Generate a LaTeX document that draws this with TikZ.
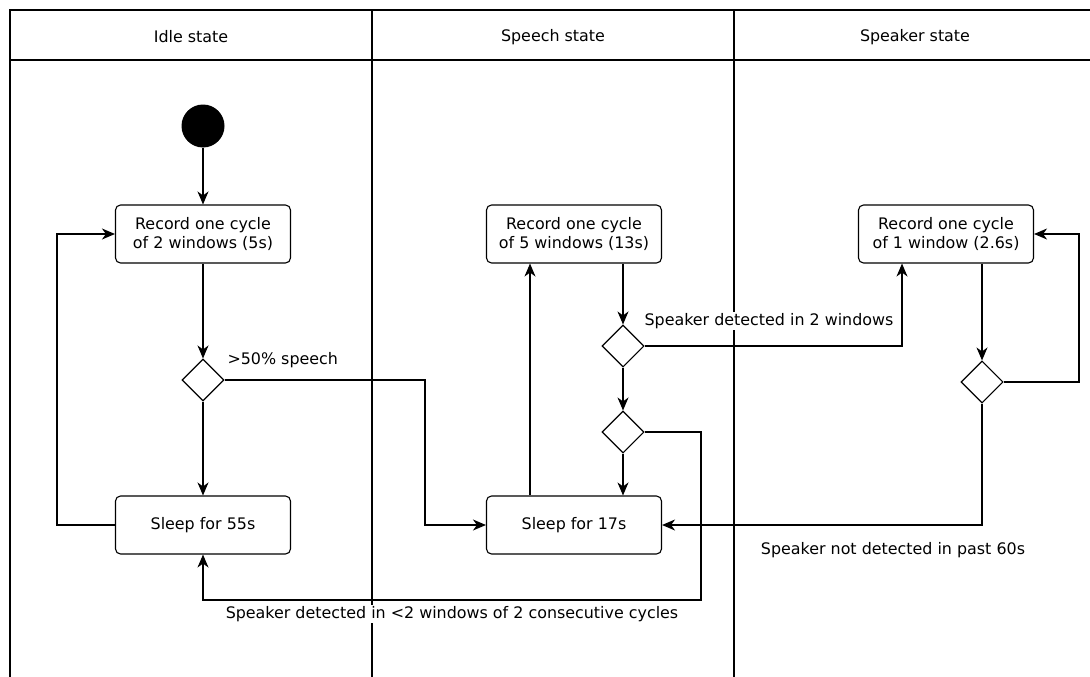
\documentclass[tikz,border=0pt]{standalone}
\usepackage{fontspec}
\setmainfont{DejaVu Sans}
\usetikzlibrary{arrows.meta,shapes.geometric}
\begin{document}
\begin{tikzpicture}[x=1pt,y=-1pt,
  every node/.style={font=\fontsize{15.9}{19.5}\selectfont},
  lane/.style={line width=1.6pt},
  actbox/.style={draw,line width=1.1pt,rounded corners=5pt,minimum width=175pt,minimum height=58pt,align=center,inner sep=0pt},
  choice/.style={draw,line width=1.1pt,diamond,minimum width=42pt,minimum height=42pt,inner sep=0pt},
  startdot/.style={circle,fill=black,minimum size=43pt,inner sep=0pt},
  flow/.style={line width=1.1pt,-{Stealth[length=13pt,width=11pt,inset=4pt]}},
  lbl/.style={fill=white,inner sep=1pt}]
\useasboundingbox (0,0) rectangle (1090,677);
\clip (0,0) rectangle (1090,677);
\fill[white] (0,0) rectangle (1090,677);
% swimlanes
\draw[lane] (10,700) -- (10,10) -- (1096,10) -- (1096,700);
\draw[lane] (10,60) -- (1096,60);
\draw[lane] (372,10) -- (372,700);
\draw[lane] (734,10) -- (734,700);
\node (h1) at (191,37) {Idle state};
\node (h2) at (553,37) {Speech state};
\node (h3) at (915,37) {Speaker state};
% nodes
\node[startdot] (s) at (203,126) {};
\node[actbox] (r1) at (203,234) {Record one cycle\\of 2 windows (5s)};
\node[choice] (d1) at (203,380) {};
\node[actbox] (sl1) at (203,525) {Sleep for 55s};
\node[actbox] (r2) at (574,234) {Record one cycle\\of 5 windows (13s)};
\node[choice] (d2) at (623,346) {};
\node[choice] (d3) at (623,432) {};
\node[actbox] (sl2) at (574,525) {Sleep for 17s};
\node[actbox] (r3) at (946,234) {Record one cycle\\of 1 window (2.6s)};
\node[choice] (d4) at (982,382) {};
% connectors
\draw[flow] (s) -- (r1);
\draw[flow] (r1) -- (d1);
\draw[flow] (d1) -- (sl1);
\draw[flow] (sl1.west) -- (57,525) -- (57,234) -- (r1.west);
\draw[flow] (d1.east) -- (425,380) -- (425,525) -- (sl2.west);
\draw[flow] (sl2.north -| 530,0) -- (r2.south -| 530,0);
\draw[flow] (r2.south -| d2) -- (d2.north);
\draw[flow] (d2) -- (d3);
\draw[flow] (d3.south) -- (sl2.north -| d3);
\draw[flow] (d2.east) -- (902,346) -- (r3.south -| 902,0);
\draw[flow] (d3.east) -- (701,432) -- (701,600) -- (203,600) -- (sl1.south);
\draw[flow] (r3.south -| d4) -- (d4.north);
\draw[flow] (d4.east) -- (1079,382) -- (1079,234) -- (r3.east);
\draw[flow] (d4.south) -- (982,525) -- (sl2.east);
% labels
\node[anchor=west] (l1) at (224,360) {>50\% speech};
\node[lbl] (l2) at (769,321) {Speaker detected in 2 windows};
\node[lbl] (l3) at (452,614) {Speaker detected in <2 windows of 2 consecutive cycles};
\node[lbl] (l4) at (893,550) {Speaker not detected in past 60s};
\end{tikzpicture}
\end{document}
